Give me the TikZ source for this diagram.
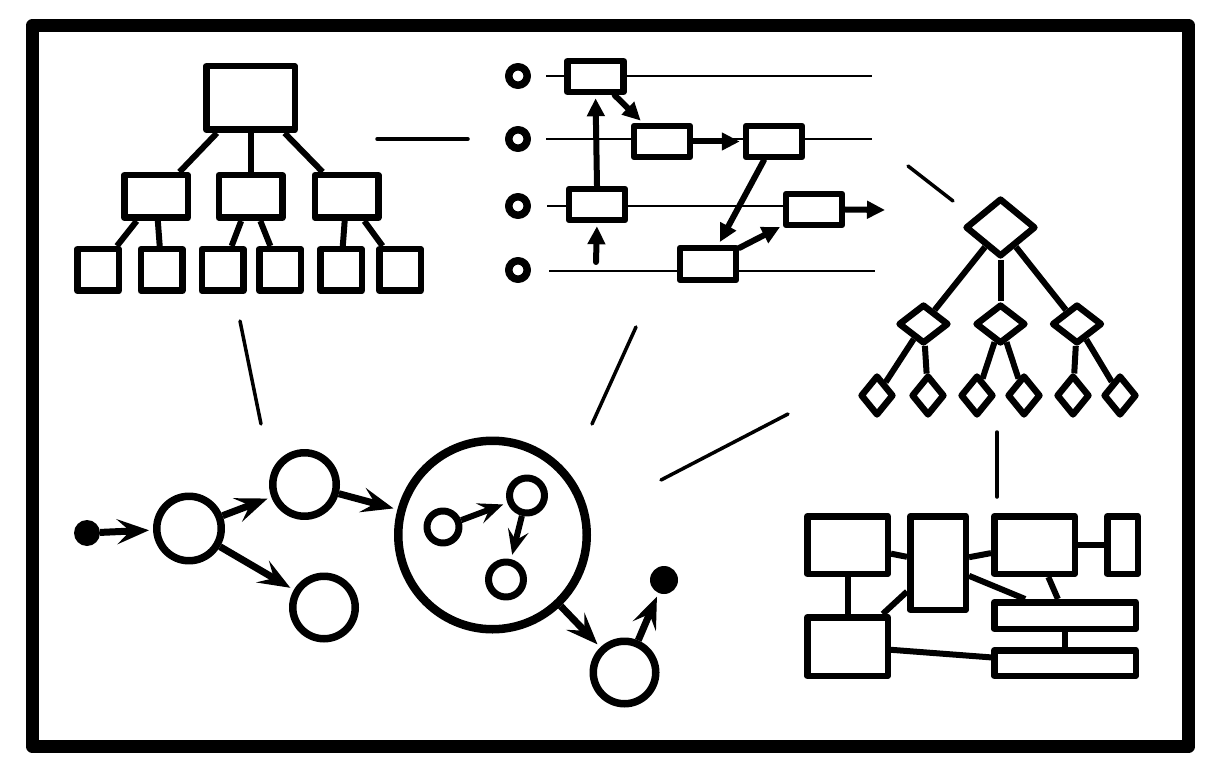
\documentclass[tikz,border=0pt]{standalone}
\usetikzlibrary{arrows.meta,shapes.geometric}
\begin{document}
\begin{tikzpicture}[x=1pt,y=-1pt,line join=round,
 shp/.style={draw,line width=6.5pt,fill=white,inner sep=0pt,outer sep=3.25pt},
 bx/.style 2 args={shp,rectangle,minimum width=#1,minimum height=#2},
 dia/.style 2 args={shp,diamond,minimum width=#1,minimum height=#2},
 crc/.style={shp,circle,minimum size=#1},
 ring/.style={shp,circle,line width=7.5pt,outer sep=3.75pt,minimum size=#1},
 dot/.style={circle,fill=black,inner sep=0pt,outer sep=0pt,minimum size=#1},
 conn/.style={line width=6pt},
 sepline/.style={line width=3.5pt,line cap=round},
 lane/.style={line width=2pt},
 tarr/.style={line width=6pt,line cap=round,-{Triangle[length=18pt,width=17pt]},shorten >=3pt},
 sarr/.style={line width=7pt,-{Stealth[length=32pt,width=25pt,inset=13pt]},shorten >=4pt},
 ssarr/.style={line width=6pt,-{Stealth[length=25pt,width=21pt,inset=10pt]},shorten >=4.5pt}]
\useasboundingbox (0,0) rectangle (1230,783);
% frame
\draw[line width=13.5pt] (32.5,25.5) rectangle (1188.5,746.5);

% separator lines
\draw[sepline] (377,139) -- (468,139);
\draw[sepline] (240,321) -- (261,424);
\draw[sepline] (636,327) -- (592,424);
\draw[sepline] (661,480) -- (788,414);
\draw[sepline] (908,166) -- (953,201);
\draw[sepline] (997,432) -- (997,497);

% ---------- tree of boxes ----------
\node[bx={88.5}{63.5}] (t0) at (250.5,98) {};
\node[bx={63.5}{42.5}] (t1) at (156,196.5) {};
\node[bx={63.5}{42.5}] (t2) at (250.5,196.5) {};
\node[bx={63.5}{42.5}] (t3) at (346.5,196.5) {};
\node[bx={41.5}{41.5}] (l1) at (98,270) {};
\node[bx={41.5}{41.5}] (l2) at (161.5,270) {};
\node[bx={41.5}{41.5}] (l3) at (222.5,270) {};
\node[bx={41.5}{41.5}] (l4) at (280,270) {};
\node[bx={41.5}{41.5}] (l5) at (341,270) {};
\node[bx={41.5}{41.5}] (l6) at (400,270) {};
\draw[conn] (t0) -- (t1);
\draw[conn] (t0) -- (t2);
\draw[conn] (t0) -- (t3);
\draw[conn] (t1) -- (l1);
\draw[conn] (t1) -- (l2);
\draw[conn] (t2) -- (l3);
\draw[conn] (t2) -- (l4);
\draw[conn] (t3) -- (l5);
\draw[conn] (t3) -- (l6);

% ---------- lanes ----------
\draw[lane] (546,76) -- (872,76);
\draw[lane] (546,139) -- (872,139);
\draw[lane] (547,206) -- (785,206);
\draw[lane] (549,271) -- (875,271);
\node[ring=18.5] (o1) at (518,76) {};
\node[ring=18.5] (o2) at (518,139) {};
\node[ring=18.5] (o3) at (518,206) {};
\node[ring=18.5] (o4) at (518,270) {};
\node[bx={56}{31}] (b1) at (595.5,76.5) {};
\node[bx={56}{31}] (b2) at (662,141.5) {};
\node[bx={56}{31}] (b3) at (774,141.5) {};
\node[bx={56}{31}] (b4) at (814,209.5) {};
\node[bx={56}{31}] (b5) at (597,204.5) {};
\node[bx={56}{32}] (b6) at (708,264) {};
\coordinate (bin) at (596,262);
\coordinate (bout) at (888,210);
\draw[tarr] (b5.north) -- (b1.south);
\draw[tarr] (bin) -- (b5.south);
\draw[tarr] (b1) -- (b2);
\draw[tarr] (b2) -- (b3);
\draw[tarr] (b3) -- (b6);
\draw[tarr] (b6) -- (b4);
\draw[tarr] (b4.east) -- (bout);

% ---------- tree of diamonds ----------
\node[dia={70.5}{58.5}] (d0) at (1000.5,227.5) {};
\node[dia={50.5}{39.5}] (d1) at (923.5,324) {};
\node[dia={50.5}{39.5}] (d2) at (1000.5,324) {};
\node[dia={50.5}{39.5}] (d3) at (1077,324) {};
\node[dia={33.5}{40.5}] (e1) at (877,395.5) {};
\node[dia={33.5}{40.5}] (e2) at (928,395.5) {};
\node[dia={33.5}{40.5}] (e3) at (977,395.5) {};
\node[dia={33.5}{40.5}] (e4) at (1024,395.5) {};
\node[dia={33.5}{40.5}] (e5) at (1073,395.5) {};
\node[dia={33.5}{40.5}] (e6) at (1120,395.5) {};
\draw[conn] (d0) -- (d1);
\draw[conn] (d0) -- (d2);
\draw[conn] (d0) -- (d3);
\draw[conn] (d1) -- (e1);
\draw[conn] (d1) -- (e2);
\draw[conn] (d2) -- (e3);
\draw[conn] (d2) -- (e4);
\draw[conn] (d3) -- (e5);
\draw[conn] (d3) -- (e6);

% ---------- state graph ----------
\node[dot=26] (da) at (87,533) {};
\node[ring=64.5] (c1) at (189,528.5) {};
\node[ring=63.5] (c2) at (304.5,484.5) {};
\node[ring=62.5] (c3) at (324,607.5) {};
\node[ring=188.5,line width=8.5pt,outer sep=4.25pt] (big) at (492.5,535) {};
\node[ring=32,line width=7pt,outer sep=3.5pt] (s1) at (443,527) {};
\node[ring=35,line width=7pt,outer sep=3.5pt] (s2) at (527,495.5) {};
\node[ring=35,line width=7pt,outer sep=3.5pt] (s3) at (506,579.5) {};
\node[ring=62.5] (c4) at (624.5,672.5) {};
\node[dot=28] (db) at (664,580) {};
\draw[sarr] (da) -- (c1);
\draw[sarr] (c1) -- (c2);
\draw[sarr] (c1) -- (c3);
\draw[sarr] (c2) -- (big);
\draw[ssarr] (s1) -- (s2);
\draw[ssarr] (s2) -- (s3);
\draw[sarr] (big) -- (c4);
\draw[sarr] (c4) -- (db);

% ---------- block diagram ----------
\node[bx={80.5}{57.5}] (r1) at (847.5,545) {};
\node[bx={55.5}{93.5}] (r2) at (938,563) {};
\node[bx={80.5}{57.5}] (r3) at (1034.5,545) {};
\node[bx={30.5}{57.5}] (r4) at (1122.5,545) {};
\node[bx={141.5}{26.5}] (r5) at (1065,615.5) {};
\node[bx={141.5}{25.5}] (r6) at (1065,663) {};
\node[bx={80.5}{58.5}] (r7) at (847.5,646.5) {};
\draw[conn] (r1) -- (r2);
\draw[conn] (r1) -- (r7);
\draw[conn] (r7) -- (r2);
\draw[conn] (r2) -- (r3);
\draw[conn] (r3) -- (r4);
\draw[conn] (r2) -- (r5);
\draw[conn] (r3) -- (r5);
\draw[conn] (r5) -- (r6);
\draw[conn] (r7) -- (r6);
\end{tikzpicture}
\end{document}
